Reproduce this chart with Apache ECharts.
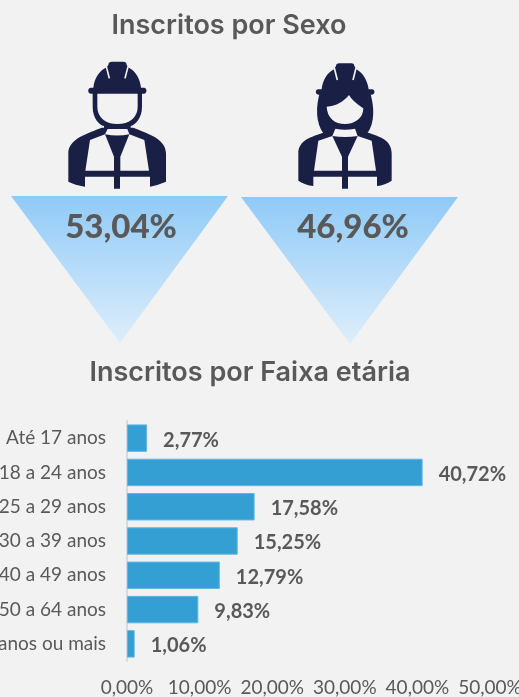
<!DOCTYPE html>
<html>
<head>
<meta charset="utf-8">
<style>
html, body { margin: 0; padding: 0; background: #f2f2f2; }
#main { width: 519px; height: 697px; }
</style>
<script src="https://cdn.jsdelivr.net/npm/echarts@6/dist/echarts.min.js"></script>
</head>
<body>
<div id="main"></div>
<script>
var titles = ['Inscritos por Sexo', 'Inscritos por Faixa etária'];
var sexValues = ['53,04%', '46,96%'];
var ageCategories = ['Até 17 anos', '18 a 24 anos', '25 a 29 anos', '30 a 39 anos', '40 a 49 anos', '50 a 64 anos', '65 anos ou mais'];
var ageValues = [2.77, 40.72, 17.58, 15.25, 12.79, 9.83, 1.06];

var BG = '#f2f2f2', DARK = '#1a1f45', GREY = '#595959';

function pct(v) {
    return v.toFixed(2).replace('.', ',') + '%';
}

// helper for the icon parts, drawn in 3x coordinates
var shapeCount = 0;
function shape(d, color) {
    var name = 'iconPart' + (shapeCount++);
    echarts.graphic.registerShape(name, echarts.graphic.extendPath(d, {}));
    return { type: name, style: { fill: color } };
}

function line(x1, y1, x2, y2) {
    return { type: 'line', shape: { x1: x1, y1: y1, x2: x2, y2: y2 }, style: { stroke: BG, lineWidth: 5 } };
}

// homem
var maleIcon = {
    type: 'group', x: 40, y: 50, scaleX: 1 / 3, scaleY: 1 / 3,
    children: [
        shape('M185 233L280 233C320 250 378 265 378 310L378 395Q355 405 330 410L330 380L240 380L240 416L222 416L222 380L135 380L135 410Q105 405 85 395L85 310C85 265 145 250 185 233Z', DARK),
        shape('M158 125L306 125L306 170C306 205 285 225 272 228L272 240L192 240L192 228C178 225 158 205 158 170Z', DARK),
        shape('M172 125L293 125L293 170C293 203 268 222 232 222C197 222 172 203 172 170Z', BG),
        shape('M203 237L262 237L268 253Q232 260 195 253Z', BG),
        shape('M150 270L195 253L222 320L222 362L136 362Z', BG),
        shape('M313 270L268 253L241 320L241 362L327 362Z', BG),
        shape('M160 113C163 85 178 62 200 52L205 45C205 38 210 35 215 35L250 35C256 35 260 38 260 45L264 52C286 62 300 85 303 113L312 113C322 113 322 131 312 131L153 131C142 131 142 113 153 113Z', DARK),
        line(199, 50, 208, 85),
        line(264, 50, 255, 85)
    ]
};

// mulher
var femaleIcon = {
    type: 'group', x: 280, y: 50, scaleX: 1 / 3, scaleY: 1 / 3,
    children: [
        shape('M130 248L265 248C300 260 335 270 335 310L335 392Q315 405 291 408L291 380L204 380L204 416L186 416L186 380L100 380L100 408Q75 405 55 392L55 310C55 270 95 260 130 248Z', DARK),
        shape('M122 120C105 170 108 220 130 250L262 250C284 220 285 170 268 120Z', DARK),
        shape('M140 170C170 168 190 155 207 135C215 150 235 165 250 175C250 205 225 222 195 222C165 222 142 205 140 170Z', BG),
        shape('M166 236C185 240 205 240 225 236L233 258Q195 264 157 258Z', BG),
        shape('M115 272L157 258L186 320L186 362L102 362Z', BG),
        shape('M275 272L233 258L204 320L204 362L288 362Z', BG),
        shape('M125 118C128 90 142 68 162 58L168 48C168 42 173 40 178 40L214 40C219 40 223 42 223 48L229 58C248 68 262 90 266 118L276 118C286 118 286 134 276 134L115 134C105 134 105 118 115 118Z', DARK),
        line(163, 54, 172, 90),
        line(228, 54, 219, 90)
    ]
};

function triangle(x1, x2, xTip, yTop, yTip) {
    return {
        type: 'polygon',
        shape: { points: [[x1, yTop], [x2, yTop], [xTip, yTip]] },
        style: {
            fill: {
                type: 'linear', x: 0, y: 0, x2: 0, y2: 1,
                colorStops: [{ offset: 0, color: '#90caf7' }, { offset: 1, color: '#deeefb' }]
            }
        }
    };
}

function bigText(txt, x, y) {
    return {
        type: 'text', x: x, y: y,
        style: { text: txt, fill: GREY, font: '900 33px Lato', textAlign: 'center', textVerticalAlign: 'middle' }
    };
}

var myChart = echarts.init(document.getElementById('main'));

var option = {
    backgroundColor: BG,
    animation: false,
    title: [
        { text: titles[0], left: 224, top: 7, textAlign: 'center',
          textStyle: { color: GREY, fontFamily: 'Inter', fontWeight: 600, fontSize: 27 } },
        { text: titles[1], left: 245, top: 354, textAlign: 'center',
          textStyle: { color: GREY, fontFamily: 'Inter', fontWeight: 600, fontSize: 27 } }
    ],
    grid: { left: 127, top: 421, width: 363, height: 240, outerBoundsMode: 'none' },
    xAxis: {
        type: 'value',
        min: 0,
        max: 50,
        interval: 10,
        axisLine: { show: false },
        axisTick: { show: false },
        splitLine: { show: false },
        axisLabel: {
            color: GREY, fontFamily: 'Lato', fontSize: 19, margin: 17,
            formatter: function (v) { return pct(v); }
        }
    },
    yAxis: {
        type: 'category',
        inverse: true,
        data: ageCategories,
        axisLine: { lineStyle: { color: '#d9d9d9', width: 2 } },
        axisTick: { show: false },
        axisLabel: { color: GREY, fontFamily: 'Lato', fontSize: 19, margin: 21, interval: 0, padding: [3, 0, 0, 0] }
    },
    series: [{
        type: 'bar',
        data: ageValues,
        barWidth: '80%',
        itemStyle: { color: '#339fd3', borderColor: '#62b6e2', borderWidth: 1 },
        label: {
            show: true,
            position: 'right',
            distance: 16,
            offset: [0, 2],
            color: GREY,
            fontFamily: 'Lato',
            fontWeight: 'bold',
            fontSize: 20,
            formatter: function (p) { return pct(p.value); }
        }
    }],
    graphic: [
        maleIcon,
        femaleIcon,
        triangle(11, 228, 120, 196, 343),
        triangle(241, 458, 350, 197, 344),
        bigText(sexValues[0], 121, 227),
        bigText(sexValues[1], 353, 227)
    ]
};

myChart.setOption(option);
</script>
</body>
</html>
